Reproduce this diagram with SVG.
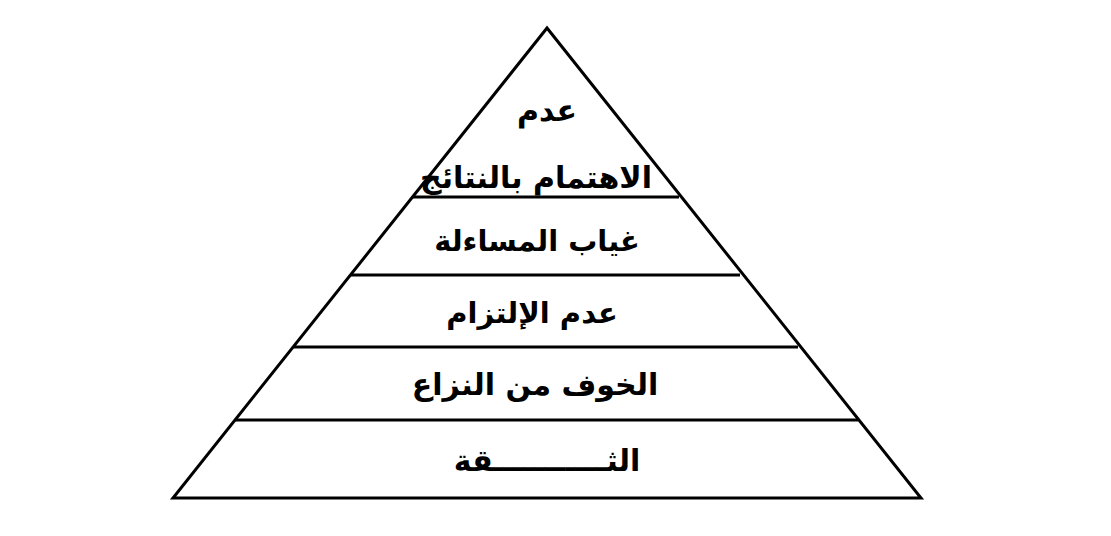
<svg xmlns="http://www.w3.org/2000/svg" width="1111" height="536" viewBox="0 0 1111 536">
<style>
.edge{stroke:#000;stroke-width:3;fill:none;stroke-linejoin:miter}
.t{font-family:"DejaVu Sans","Noto Sans",sans-serif;font-weight:bold;font-size:30px;fill:#000;text-anchor:middle}
</style>
<rect width="1111" height="536" fill="#fff"/>
<g id="connectors">
<path class="edge" d="M547 28 L173 498 L921 498 Z"/>
<line class="edge" x1="413" y1="197" x2="679" y2="197"/>
<line class="edge" x1="350" y1="275" x2="740" y2="275"/>
<line class="edge" x1="293" y1="347" x2="798" y2="347"/>
<line class="edge" x1="235" y1="420" x2="858" y2="420"/>
</g>
<g id="level5"><text class="t" x="547" y="121" direction="rtl">عدم</text><text class="t" x="536" y="188" direction="rtl">الاهتمام بالنتائج</text></g>
<g id="level4"><text class="t" x="537" y="251" direction="rtl" style="font-size:29px">غياب المساءلة</text></g>
<g id="level3"><text class="t" x="532" y="323" direction="rtl" style="font-size:29px">عدم الإلتزام</text></g>
<g id="level2"><text class="t" x="535" y="395" direction="rtl">الخوف من النزاع</text></g>
<g id="level1"><text class="t" x="547" y="471" direction="rtl">الثـــــــــــقة</text></g>
</svg>
